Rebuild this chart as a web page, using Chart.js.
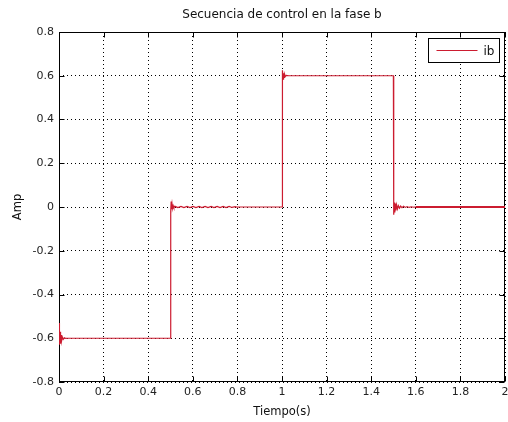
<!DOCTYPE html>
<html>
<head>
<meta charset="utf-8">
<script src="https://cdn.jsdelivr.net/npm/chart.js@4.4.0/dist/chart.umd.min.js"></script>
<style>
  html, body { margin: 0; padding: 0; background: #fff; }
  #wrap { width: 508px; height: 422px; }
</style>
</head>
<body>
<div id="wrap"><canvas id="myChart"></canvas></div>
<script>
// time (s) and phase-b current (A)
var tiempo = [
  0, 0.001, 0.003, 0.005, 0.007, 0.009, 0.012, 0.015, 0.019, 0.024, 0.03, 0.04,
  0.4995, 0.5, 0.501, 0.502, 0.503, 0.505, 0.507, 0.509, 0.512, 0.515, 0.52,
  0.533, 0.547, 0.56, 0.574, 0.587, 0.601, 0.614, 0.628, 0.641, 0.655, 0.668,
  0.682, 0.695, 0.709, 0.722, 0.736, 0.749, 0.763, 0.776, 0.79, 0.80, 0.81,
  0.9995, 1.0, 1.001, 1.002, 1.003, 1.005, 1.007, 1.009, 1.012, 1.015, 1.02, 1.03,
  1.4995, 1.5, 1.501, 1.502, 1.504, 1.506, 1.508, 1.511, 1.514, 1.518, 1.522,
  1.527, 1.532, 1.538, 1.545, 1.553, 1.561, 1.57, 1.58, 1.59, 1.60, 2.0
];
var ib = [
  -0.55, -0.53, -0.63, -0.57, -0.625, -0.585, -0.61, -0.595, -0.605, -0.598, -0.601, -0.6,
  -0.6, -0.6, -0.05, -0.02, 0.025, -0.01, 0.012, -0.006, 0.006, -0.003, 0.003,
  -0.003, 0.003, -0.003, 0.003, -0.003, 0.003, -0.003, 0.003, -0.003, 0.003, -0.003,
  0.003, -0.003, 0.003, -0.003, 0.003, -0.003, 0.003, -0.002, 0.002, -0.001, 0,
  0, 0, 0.56, 0.58, 0.625, 0.585, 0.612, 0.593, 0.606, 0.597, 0.602, 0.6,
  0.6, 0.6, 0.02, -0.035, 0.02, -0.025, 0.015, -0.016, 0.01, -0.009, 0.006,
  -0.005, 0.004, -0.003, 0.003, -0.002, 0.002, -0.002, 0.001, -0.001, 0, 0
];
var xTicks = [0, 0.2, 0.4, 0.6, 0.8, 1, 1.2, 1.4, 1.6, 1.8, 2];
var yTicks = [-0.8, -0.6, -0.4, -0.2, 0, 0.2, 0.4, 0.6, 0.8];

var points = [];
for (var i = 0; i < tiempo.length; i++) {
  points.push({x: tiempo[i], y: ib[i]});
}

var lineColor = 'rgb(204,28,48)';
var fontFamily = '"DejaVu Sans", "Liberation Sans", Arial, sans-serif';

// MATLAB style box with inward ticks, drawn under the data
var boxPlugin = {
  id: 'matlabBox',
  beforeDatasetsDraw: function(chart) {
    var ctx = chart.ctx, a = chart.chartArea;
    var xs = chart.scales.x, ys = chart.scales.y;
    var l = Math.round(a.left) + 0.5, r = Math.round(a.right) - 0.5;
    var t = Math.round(a.top) + 0.5, b = Math.round(a.bottom) - 0.5;
    ctx.save();
    ctx.strokeStyle = '#000';
    ctx.lineWidth = 1;
    ctx.setLineDash([]);
    ctx.strokeRect(l, t, r - l, b - t);
    ctx.beginPath();
    xTicks.forEach(function(v) {
      var px = Math.round(xs.getPixelForValue(v)) + 0.5;
      ctx.moveTo(px, b); ctx.lineTo(px, b - 5);
      ctx.moveTo(px, t); ctx.lineTo(px, t + 5);
    });
    yTicks.forEach(function(v) {
      var py = Math.round(ys.getPixelForValue(v)) + 0.5;
      ctx.moveTo(l, py); ctx.lineTo(l + 5, py);
      ctx.moveTo(r, py); ctx.lineTo(r - 5, py);
    });
    ctx.stroke();
    ctx.restore();
  },
  afterDraw: function(chart) {
    // legend box in the upper right corner
    var ctx = chart.ctx, a = chart.chartArea;
    var ds = chart.data.datasets[0];
    var bx = Math.round(a.right) - 77 + 0.5, by = Math.round(a.top) + 6 + 0.5;
    var bw = 71, bh = 24;
    ctx.save();
    ctx.fillStyle = '#fff';
    ctx.fillRect(bx, by, bw, bh);
    ctx.strokeStyle = '#000';
    ctx.lineWidth = 1;
    ctx.strokeRect(bx, by, bw, bh);
    ctx.strokeStyle = ds.borderColor;
    ctx.beginPath();
    ctx.moveTo(bx + 8, by + bh / 2);
    ctx.lineTo(bx + 49, by + bh / 2);
    ctx.stroke();
    ctx.fillStyle = '#111';
    ctx.font = '12px ' + fontFamily;
    ctx.textBaseline = 'middle';
    ctx.fillText(ds.label, bx + 55, by + bh / 2 + 1);
    ctx.restore();
  }
};

var ctx = document.getElementById('myChart');
new Chart(ctx, {
  type: 'scatter',
  data: {
    datasets: [{
      label: 'ib',
      data: points,
      showLine: true,
      borderColor: lineColor,
      borderWidth: 1.2,
      pointRadius: 0,
      segment: {
        borderWidth: function(c) { return c.p0.parsed.x >= 1.6 ? 2.2 : 1.2; }
      }
    }]
  },
  options: {
    responsive: true,
    maintainAspectRatio: false,
    animation: false,
    layout: { padding: { left: 0, right: 3, top: 0, bottom: 0 } },
    plugins: {
      legend: { display: false },
      tooltip: { enabled: false },
      title: {
        display: true,
        text: 'Secuencia de control en la fase b',
        fullSize: false,
        color: '#111',
        font: { family: fontFamily, size: 12, weight: 'normal' },
        padding: { top: 8, bottom: 9.6 }
      }
    },
    scales: {
      x: {
        type: 'linear',
        min: 0, max: 2,
        afterBuildTicks: function(s) { s.ticks = xTicks.map(function(v) { return {value: v}; }); },
        afterFit: function(s) { s.height = 40; s.paddingRight = 0; s.paddingLeft = 0; },
        grid: { color: '#000', lineWidth: 1, drawTicks: false },
        border: { display: false, dash: [1, 3] },
        ticks: {
          padding: 4, color: '#222', maxRotation: 0, autoSkip: false,
          font: { family: fontFamily, size: 11 },
          callback: function(v) { return String(Math.round(v * 10) / 10); }
        },
        title: {
          display: true, text: 'Tiempo(s)', color: '#111',
          font: { family: fontFamily, size: 11.5 },
          padding: { top: 0, bottom: 3 }
        }
      },
      y: {
        type: 'linear',
        min: -0.8, max: 0.8,
        afterBuildTicks: function(s) { s.ticks = yTicks.map(function(v) { return {value: v}; }); },
        afterFit: function(s) { s.width = 59; },
        grid: { color: '#000', lineWidth: 1, drawTicks: false },
        border: { display: false, dash: [1, 3] },
        ticks: {
          padding: 5, color: '#222', autoSkip: false,
          font: { family: fontFamily, size: 11 },
          callback: function(v) { return String(Math.round(v * 10) / 10); }
        },
        title: {
          display: true, text: 'Amp', color: '#111',
          font: { family: fontFamily, size: 11.5 },
          padding: { top: 11, bottom: 0 }
        }
      }
    }
  },
  plugins: [boxPlugin]
});
</script>
</body>
</html>
